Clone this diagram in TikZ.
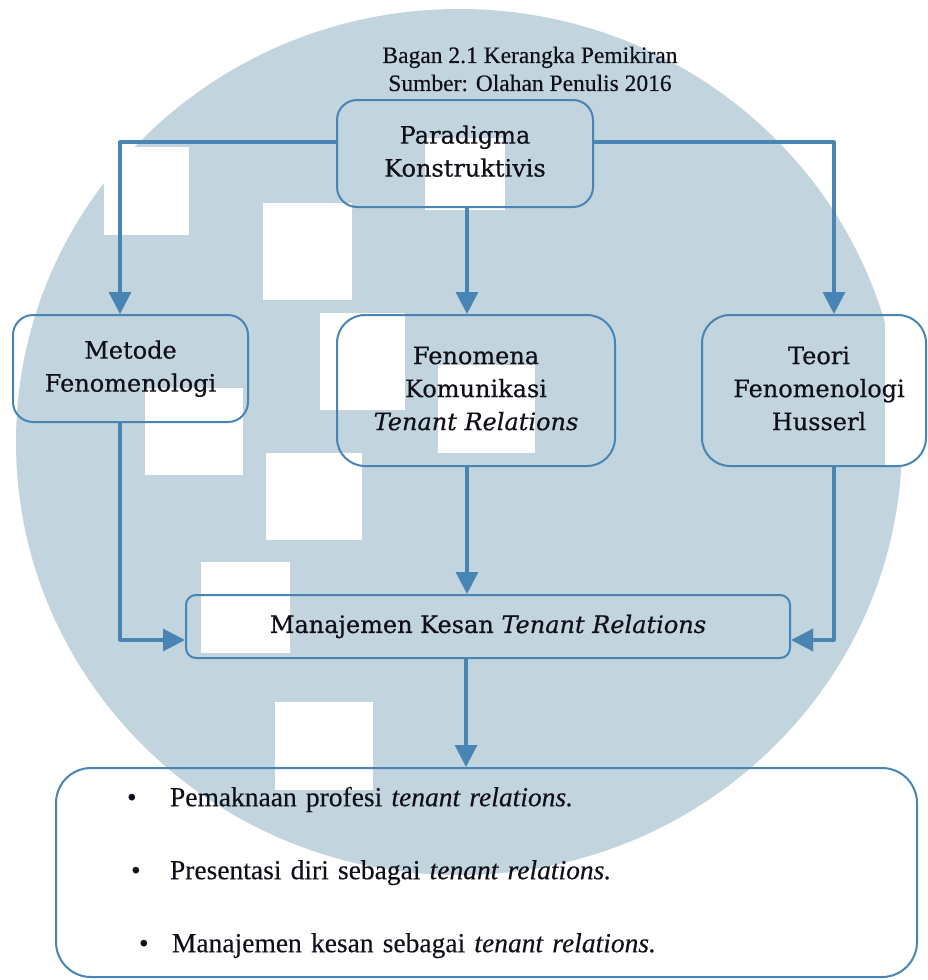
\documentclass[tikz,border=0pt]{standalone}
\usepackage{fontspec}
\setmainfont{Liberation Serif}
\newfontfamily\boxfont[FakeBold=0.5]{DejaVu Serif}
\newfontfamily\listfont[FakeBold=0.3]{Liberation Serif}
\usetikzlibrary{arrows.meta}
\definecolor{wm}{RGB}{194,212,221}
\definecolor{ln}{RGB}{72,133,180}
\definecolor{tx}{RGB}{15,15,25}
\newcommand\stacklines[2]{\raisebox{#1}{\begin{tabular}{@{}c@{}}#2\end{tabular}}}
\begin{document}
\begin{tikzpicture}[x=1pt,y=-1pt,
 box/.style={draw=ln, line width=2pt, text=tx, inner sep=0pt,
   font=\boxfont\fontsize{24}{33}\selectfont},
 conn/.style={draw=ln, line width=3.2pt, line join=round},
 arr/.style={conn, -{Triangle[length=22pt,width=22pt]}},
 sq/.style={fill=white},
]
\useasboundingbox (0,0) rectangle (928,980);
% watermark
\fill[wm] (459,442) ellipse [x radius=443pt, y radius=433pt];
\fill[sq] (104,147) rectangle (189,235);
\fill[sq] (263,203) rectangle (352,300);
\fill[sq] (425,138) rectangle (505,210);
\fill[sq] (320,313) rectangle (405,410);
\fill[sq] (438,365) rectangle (535,453);
\fill[sq] (145,388) rectangle (243,475);
\fill[sq] (266,453) rectangle (362,540);
\fill[sq] (201,562) rectangle (290,653);
\fill[sq] (275,702) rectangle (373,790);
\fill[sq] (885,313) rectangle (928,467);
% title
\node[text=tx, align=center, font=\listfont\fontsize{23.5}{28}\selectfont] (title) at (530,69)
  {Bagan 2.1 Kerangka Pemikiran\\Sumber: Olahan Penulis 2016};
% boxes
\node[box, rounded corners=20pt, minimum width=256pt, minimum height=107pt] (par) at (465,153.5)
  {\stacklines{6pt}{Paradigma\\Konstruktivis}};
\node[box, rounded corners=20pt, minimum width=235pt, minimum height=107pt] (metode) at (130.5,368.5)
  {\stacklines{5pt}{Metode\\Fenomenologi}};
\node[box, rounded corners=28pt, minimum width=278pt, minimum height=151pt] (fen) at (476,390.5)
  {\stacklines{9pt}{Fenomena\\Komunikasi\\\textit{Tenant Relations}}};
\node[box, rounded corners=28pt, minimum width=224pt, minimum height=151pt] (teori) at (814,390.5)
  {\stacklines{8.5pt}{\hspace*{10pt}Teori\\\hspace*{10pt}Fenomenologi\\\hspace*{10pt}Husserl}};
\node[box, rounded corners=10pt, minimum width=604pt, minimum height=63pt] (mk) at (488,626.5)
  {Manajemen Kesan \textit{Tenant Relations}};
\node[box, rounded corners=35pt, minimum width=861pt, minimum height=209pt,
  font=\listfont\fontsize{27.5}{73}\selectfont, text width=719pt, inner xsep=71pt, align=left] (bot) at (486.5,872.5)
  {\raisebox{-5pt}{\makebox[43pt][l]{\textbullet}Pemaknaan profesi \textit{tenant relations.}}\\
   \raisebox{-5pt}{\makebox[43pt][l]{\hspace{4pt}\textbullet}Presentasi diri sebagai \textit{tenant relations.}}\\
   \raisebox{-5pt}{\makebox[45pt][l]{\hspace{12pt}\textbullet}Manajemen kesan sebagai \textit{tenant relations.}}};
% connectors
\coordinate (L) at (120,640);
\coordinate (R) at (834,640);
\coordinate (T) at (467,142);
\coordinate (B) at (466,700);
\draw[arr] (par.west |- T) -| (metode.north -| L);
\draw[arr] (par.east |- T) -| (teori.north -| R);
\draw[arr] (par.south -| T) -- (fen.north -| T);
\draw[arr] (metode.south -| L) |- (mk.west |- L);
\draw[arr] (teori.south -| R) |- (mk.east |- R);
\draw[arr] (fen.south -| T) -- (mk.north -| T);
\draw[arr] (mk.south -| B) -- (bot.north -| B);
\end{tikzpicture}
\end{document}
